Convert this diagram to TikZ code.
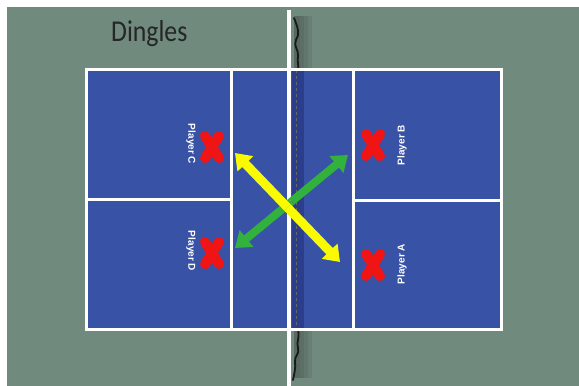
\documentclass[tikz,border=0pt]{standalone}
\usepackage{fontspec}
\setmainfont{Liberation Sans}
\newfontfamily\titlefont{Carlito}
\usetikzlibrary{arrows.meta,calc}
\definecolor{bggreen}{RGB}{112,138,126}
\definecolor{courtblue}{RGB}{56,82,166}
\definecolor{netblue}{RGB}{42,62,140}
\definecolor{xred}{RGB}{240,20,20}
\definecolor{arryellow}{RGB}{250,250,0}
\definecolor{arrgreen}{RGB}{50,178,60}
\definecolor{shadowgray}{RGB}{70,80,76}
\tikzset{
  courtline/.style={draw=white,line width=3pt},
  redx/.style={draw=xred,line width=10pt,line cap=round},
  plabel/.style={text=white,font=\fontsize{10}{11}\selectfont\bfseries,inner sep=0pt},
  dblarrow/.style={line width=9pt,-{Triangle[length=15pt,width=21pt]}},
  netshadow/.style={fill=shadowgray,opacity=0.18},
  zig/.style={draw=black!90,line width=1.8pt,line join=round,line cap=round},
}
\begin{document}
\begin{tikzpicture}[x=1pt,y=-1pt]
\useasboundingbox (0,0) rectangle (579,386);
\fill[white] (0,0) rectangle (579,386);
\fill[bggreen] (7,7) rectangle (579,386);
% title
\node[anchor=base west,inner sep=0pt,font=\titlefont\fontsize{28}{30}\selectfont,text=black!85,xscale=0.92,yscale=1.08] (title) at (111,41) {Dingles};
% court
\fill[courtblue] (86,69) rectangle (501,329);
% net band over court
\fill[netblue] (292,70) rectangle (304,328);
\draw[black!60,line width=0.8pt,dash pattern=on 3pt off 3pt] (296,70) -- (296,328);
% blurred shadows of net outside court
\foreach \w in {4,8,12,16}{
  \fill[netshadow] (294,16) rectangle (296+\w,69);
  \fill[netshadow] (294,329) rectangle (296+\w,378);
}
% net strands
\draw[zig] (294,18) .. controls (298,28) and (300,34) .. (296,40) .. controls (293,46) and (299,50) .. (298,56) .. controls (297,62) and (299,66) .. (298,69);
\draw[zig] (298,330) .. controls (300,338) and (296,342) .. (298,348) .. controls (300,354) and (294,356) .. (295,362) .. controls (296,368) and (294,374) .. (293,380);
% court lines
\draw[courtline] (86,69) rectangle (501,329);
\draw[courtline] (231,69) -- (231,329);
\draw[courtline] (353,69) -- (353,329);
\draw[courtline] (86,199) -- (231,199);
\draw[courtline] (353,200) -- (501,200);
% net post line
\draw[white,line width=3.5pt] (289,10) -- (289,386);
% players
\node[inner sep=0pt,minimum size=1pt] (xc) at (212,147) {};
\node[inner sep=0pt,minimum size=1pt] (xd) at (212,253) {};
\node[inner sep=0pt,minimum size=1pt] (xb) at (373,145) {};
\node[inner sep=0pt,minimum size=1pt] (xa) at (373,265) {};
\foreach \p in {xc,xd,xb,xa}{
  \draw[redx] ($(\p)+(-7,-11)$) -- ($(\p)+(7,11)$);
  \draw[redx] ($(\p)+(7,-11)$) -- ($(\p)+(-7,11)$);
}
\node[plabel,rotate=-90] (lc) at (191,144) {Player C};
\node[plabel,rotate=-90] (ld) at (191,251) {Player D};
\node[plabel,rotate=90] (lb) at (402,145) {Player B};
\node[plabel,rotate=90] (la) at (402,264) {Player A};
% arrows
\coordinate (g1) at (348,155);
\coordinate (g2) at (235,248);
\coordinate (y1) at (235,153);
\coordinate (y2) at (340,262);
\coordinate (gm) at ($(g1)!0.5!(g2)$);
\coordinate (ym) at ($(y1)!0.5!(y2)$);
\draw[dblarrow,draw=arrgreen,line width=8pt] (gm) -- (g1);
\draw[dblarrow,draw=arrgreen,line width=8pt] (gm) -- (g2);
\draw[dblarrow,draw=arryellow] (ym) -- (y1);
\draw[dblarrow,draw=arryellow] (ym) -- (y2);
\end{tikzpicture}
\end{document}
